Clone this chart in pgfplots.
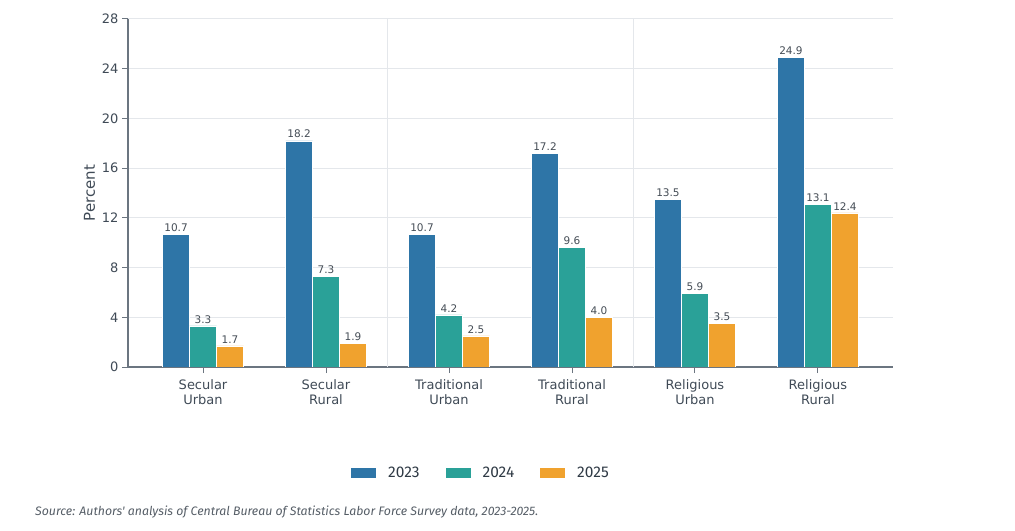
\documentclass[border=0pt]{standalone}
\usepackage{fontspec}
\setmainfont{DejaVu Sans}
\newfontfamily\legfont{Fira Sans}
\usepackage{pgfplots}
\pgfplotsset{compat=1.18}
\definecolor{c23}{HTML}{2E75A7}
\definecolor{c24}{HTML}{2AA198}
\definecolor{c25}{HTML}{F0A22E}
\definecolor{gridc}{HTML}{E4E7EB}
\definecolor{axc}{HTML}{6B7580}
\definecolor{tickc}{HTML}{3F4A56}
\definecolor{valc}{HTML}{444C55}
\definecolor{legc}{HTML}{2F3A45}
\definecolor{srcc}{HTML}{555D66}
\pgfplotsset{legsw/.style={legend image code/.code={\fill[##1,draw=none] (0bp,-4.5bp) rectangle (25bp,4.5bp);}}}
\begin{document}
\begin{tikzpicture}
\path[use as bounding box] (0,0) rectangle (1015bp,531bp);
\begin{axis}[
  at={(128bp,164bp)}, anchor=south west,
  scale only axis, width=765bp, height=348bp,
  xmin=-0.61, xmax=5.61, ymin=0, ymax=28,
  ybar=0pt, bar width=27bp,
  /pgf/number format/assume math mode=true,
  xtick={0,1,2,3,4,5},
  xticklabels={{Secular\\Urban},{Secular\\Rural},{Traditional\\Urban},{Traditional\\Rural},{Religious\\Urban},{Religious\\Rural}},
  xticklabel style={align=center, font=\fontsize{13bp}{15bp}\selectfont, text=tickc, yshift=-3bp},
  ytick={0,4,...,28},
  yticklabel style={font=\fontsize{13bp}{15bp}\selectfont, text=tickc},
  ymajorgrids, grid style={gridc, line width=1bp},
  extra x ticks={1.5,3.5}, extra x tick labels={},
  extra x tick style={grid=major, major tick length=0pt},
  axis x line*=bottom, axis y line*=left,
  axis line style={axc, line width=1.2bp, -},
  tick style={axc, line width=1bp},
  major tick length=6bp, tick align=outside,
  ylabel={Percent},
  ylabel style={font=\fontsize{15bp}{17bp}\selectfont, text=tickc},
  nodes near coords={\pgfmathprintnumber[fixed,fixed zerofill,precision=1]{\pgfplotspointmeta}},
  nodes near coords style={font=\fontsize{10.5bp}{12bp}\selectfont, text=valc, inner sep=2.5bp},
  legend style={at={(0.4614,-0.3046)}, anchor=center, draw=none, fill=none,
    legend columns=3, font=\legfont\fontsize{15.5bp}{17bp}\selectfont, text=legc,
    /tikz/every even column/.append style={column sep=24bp},
    /tikz/every odd column/.append style={column sep=10bp}},
]
\addplot[fill=c23, draw=white, line width=0.4bp, legsw] coordinates {(0,10.7) (1,18.2) (2,10.7) (3,17.2) (4,13.5) (5,24.9)};
\addplot[fill=c24, draw=white, line width=0.4bp, legsw] coordinates {(0,3.3) (1,7.3) (2,4.2) (3,9.6) (4,5.9) (5,13.1)};
\addplot[fill=c25, draw=white, line width=0.4bp, legsw] coordinates {(0,1.7) (1,1.9) (2,2.5) (3,4.0) (4,3.5) (5,12.4)};
\legend{2023,2024,2025}
\end{axis}
\node[anchor=base west, font=\legfont\itshape\fontsize{12.3bp}{14bp}\selectfont, text=srcc, inner sep=0pt] at (35bp,16bp) {Source: Authors' analysis of Central Bureau of Statistics Labor Force Survey data, 2023-2025.};
\end{tikzpicture}
\end{document}
